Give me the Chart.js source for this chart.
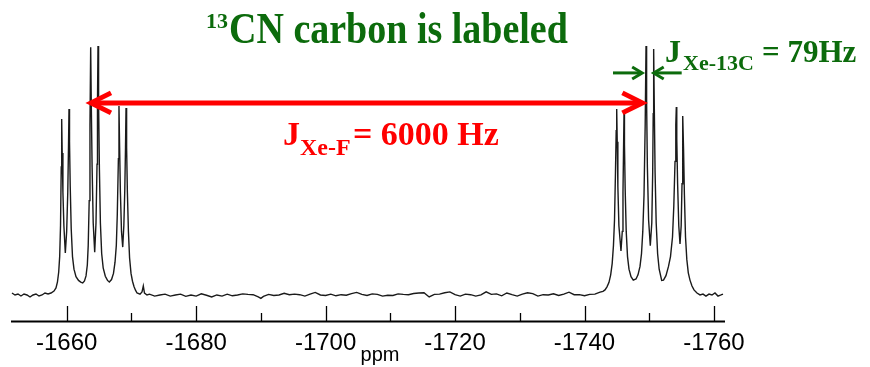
<!DOCTYPE html>
<html>
<head>
<meta charset="utf-8">
<script src="https://cdn.jsdelivr.net/npm/chart.js@4.4.0/dist/chart.umd.min.js"></script>
<style>
  html, body { margin: 0; padding: 0; background: #fff; }
</style>
</head>
<body>
<canvas id="spectrum" width="870" height="367"></canvas>
<script>
// spectrum: chemical shift (ppm) and intensity, in three stretches
// left multiplet (-1659 .. -1669 ppm)
const leftPpm = [
  -1651.55, -1652.02, -1652.48, -1652.94, -1653.41, -1653.87, -1654.34, -1654.80, -1655.26, -1655.73,
  -1656.19, -1656.65, -1657.12, -1657.58, -1658.04, -1658.35, -1658.58, -1658.77, -1658.92, -1659.05,
  -1659.16, -1659.23, -1659.31, -1659.42, -1659.57, -1659.79, -1660.00, -1660.17, -1660.28, -1660.36,
  -1660.44, -1660.55, -1660.70, -1660.90, -1661.13, -1661.44, -1661.83, -1662.17, -1662.48, -1662.75,
  -1662.99, -1663.19, -1663.33, -1663.48, -1663.60, -1663.71, -1663.80, -1663.93, -1664.10, -1664.33,
  -1664.53, -1664.69, -1664.76, -1664.84, -1664.93, -1665.06, -1665.21, -1665.41, -1665.64, -1665.97,
  -1666.31, -1666.59, -1666.93, -1667.23, -1667.47, -1667.67, -1667.82, -1667.99, -1668.08, -1668.18,
  -1668.30, -1668.47, -1668.66, -1668.83, -1668.98, -1669.09, -1669.17, -1669.26, -1669.38, -1669.54,
  -1669.72, -1669.94, -1670.17, -1670.40, -1670.63, -1670.87, -1671.33, -1671.64, -1671.84, -1672.02,
  -1672.41
];
const leftInt = [
  0, -0.71, -0.36, -1.07, -0.36, -0.71, -1.43, -0.71, -0.36, -1.07,
  -0.71, 0, -0.36, 0, 0.7, 1.8, 4.0, 7.5, 13, 24,
  45, 62.1, 50, 36, 24, 14.3, 22, 36, 52, 65.7,
  54, 38, 23, 13, 8.5, 5.8, 4.5, 3.9, 3.6, 4.3,
  6.1, 10, 17, 33, 60, 87.8, 68, 45, 25, 14.6,
  25, 46, 68, 88.2, 68, 44, 25, 14, 9, 6,
  4.5, 3.9, 4.8, 7, 11, 17, 28, 48, 66.8, 52,
  36, 22, 16.4, 24, 37, 52, 66.1, 52, 36, 22,
  12.5, 7, 4.2, 2.3, 1.0, 0, -0.4, 0.4, 2.5, 0,
  -0.7
];
// noisy baseline between the multiplets
const midPpm = [
  -1672.8, -1673.6, -1674.4, -1675.2, -1676.0, -1676.8, -1677.6, -1678.4, -1679.2, -1680.0,
  -1680.8, -1681.6, -1682.4, -1683.2, -1684.0, -1684.8, -1685.6, -1686.4, -1687.2, -1688.0,
  -1688.8, -1689.6, -1690.0, -1690.4, -1691.2, -1692.0, -1692.8, -1693.6, -1694.4, -1695.2,
  -1696.0, -1696.8, -1697.6, -1698.4, -1699.2, -1700.0, -1700.8, -1701.6, -1702.4, -1703.2,
  -1704.0, -1704.8, -1705.6, -1706.4, -1707.2, -1708.0, -1708.8, -1709.6, -1710.4, -1711.2,
  -1712.0, -1712.8, -1713.6, -1714.4, -1715.2, -1716.0, -1716.8, -1717.6, -1718.4, -1719.2,
  -1720.0, -1720.8, -1721.6, -1722.4, -1723.2, -1724.0, -1724.8, -1725.6, -1726.4, -1727.2,
  -1728.0, -1728.8, -1729.6, -1730.4, -1731.2, -1732.0, -1732.8, -1733.6, -1734.4, -1735.2,
  -1736.0, -1736.8, -1737.6, -1738.4, -1739.2, -1740.0, -1740.8, -1741.6, -1742.4
];
const midInt = [
  -0.4, -1.1, -0.7, -0.4, -1.1, -0.7, -0.4, -1.2, -0.7, -1.1,
  -0.3, -0.8, -1.4, -0.7, -1.1, -0.4, -1.0, -0.7, -0.3, -0.5,
  -0.6, -1.4, -1.9, -1.2, -0.5, -0.9, -0.7, -0.1, -0.6, -0.4,
  -0.6, -1.1, -0.4, 0.2, -0.7, -0.9, -0.4, -1.0, -0.6, -0.8,
  -0.2, 0.2, -0.5, -0.9, -0.3, -0.5, -1.1, -0.8, -0.9, -0.3,
  -0.5, -0.6, -0.2, 0.0, 0.1, -1.4, -0.5, -0.4, 0.1, 0.4,
  -0.6, -1.1, -0.4, -0.6, -1.1, -0.7, 0.4, -0.5, -0.3, -1.0,
  0.0, -0.6, -1.1, -0.4, 0.1, -0.2, -1.1, -0.6, -0.7, -0.3,
  -0.9, -0.4, 0.3, -0.6, -0.6, -1.0, -0.5, -0.4, 0.3
];
// right multiplet (-1745 .. -1755 ppm)
const rightPpm = [
  -1742.85, -1743.16, -1743.47, -1743.78, -1744.04, -1744.27, -1744.47, -1744.63, -1744.78, -1744.89,
  -1744.97, -1745.05, -1745.15, -1745.31, -1745.63, -1745.83, -1745.94, -1746.02, -1746.10, -1746.17,
  -1746.28, -1746.44, -1746.64, -1746.87, -1747.18, -1747.53, -1747.95, -1748.26, -1748.57, -1748.80,
  -1749.00, -1749.19, -1749.37, -1749.50, -1749.59, -1749.71, -1749.90, -1750.16, -1750.39, -1750.53,
  -1750.61, -1750.68, -1750.78, -1750.90, -1751.07, -1751.29, -1751.53, -1751.92, -1752.20, -1752.58,
  -1752.97, -1753.28, -1753.59, -1753.79, -1753.98, -1754.10, -1754.18, -1754.25, -1754.38, -1754.56,
  -1754.75, -1754.93, -1755.06, -1755.13, -1755.21, -1755.30, -1755.43, -1755.60, -1755.80, -1756.03,
  -1756.29, -1756.60, -1756.91, -1757.37, -1757.84, -1758.30, -1758.76, -1759.23, -1759.69, -1760.15,
  -1760.62, -1761.08, -1761.39
];
const rightInt = [
  0.6, 1.1, 2.2, 3.8, 6.5, 10.5, 17, 26, 43, 58,
  65.7, 54, 38, 24, 15.0, 22, 36, 50, 64.3, 53,
  37, 22, 13, 8.5, 5.8, 4.6, 5.0, 6.5, 9.5, 14,
  22, 35, 60, 88.2, 68, 45, 26, 16.9, 25, 43,
  64, 87.1, 66, 43, 25, 14, 8.5, 4.5, 4.6, 6.2,
  9.5, 13, 20, 31, 47, 60, 66.4, 55, 39, 24,
  17.5, 24, 39, 52, 63.2, 51, 35, 20, 12, 7.2,
  4.6, 2.5, 1.1, 0, -0.7, -0.4, -1.1, -0.4, -0.7, 0,
  -1.1, -0.7, -0.4
];
const majorTicks = [-1660, -1680, -1700, -1720, -1740, -1760];
const minorTicks = [-1670, -1690, -1710, -1730, -1750];
const tickLabels = ['-1660', '-1680', '-1700', '-1720', '-1740', '-1760'];

// annotation anchors (ppm / intensity)
const couplingArrow = { from: -1663.45, to: -1749.25, level: 67.9 };
const carbonArrows = { leftTail: -1744.4, leftTip: -1749.06, rightTip: -1750.53, rightTail: -1755.01, level: 78.6 };

const GREEN = '#0c6b0c';
const RED = '#ff0000';

function chevron(ctx, tipX, tipY, dir, back, half) {
  ctx.beginPath();
  ctx.moveTo(tipX + dir * back, tipY - half);
  ctx.lineTo(tipX, tipY);
  ctx.lineTo(tipX + dir * back, tipY + half);
  ctx.stroke();
}

function text(ctx, str, x, y, font, color, sy) {
  ctx.save();
  ctx.font = font;
  ctx.fillStyle = color;
  ctx.textBaseline = 'alphabetic';
  ctx.textAlign = 'left';
  ctx.translate(x, y);
  ctx.scale(1, sy || 1);
  ctx.fillText(str, 0, 0);
  ctx.restore();
}

const decorations = {
  id: 'decorations',
  afterDraw(chart) {
    const ctx = chart.ctx;
    const xs = chart.scales.x, ys = chart.scales.y;
    const area = chart.chartArea;
    ctx.save();

    // axis line and ticks (pointing up)
    ctx.strokeStyle = '#000';
    ctx.lineWidth = 2;
    ctx.beginPath();
    ctx.moveTo(area.left, area.bottom + 0.5);
    ctx.lineTo(area.right, area.bottom + 0.5);
    ctx.stroke();
    ctx.lineWidth = 1.3;
    majorTicks.forEach(v => {
      const px = Math.round(xs.getPixelForValue(v)) + 0.5;
      ctx.beginPath(); ctx.moveTo(px, area.bottom); ctx.lineTo(px, area.bottom - 15); ctx.stroke();
    });
    minorTicks.forEach(v => {
      const px = Math.round(xs.getPixelForValue(v)) + 0.5;
      ctx.beginPath(); ctx.moveTo(px, area.bottom); ctx.lineTo(px, area.bottom - 8); ctx.stroke();
    });
    ctx.fillStyle = '#000';
    ctx.font = '24px "Liberation Sans", Arial, sans-serif';
    ctx.textAlign = 'center';
    ctx.textBaseline = 'alphabetic';
    majorTicks.forEach((v, i) => {
      ctx.fillText(tickLabels[i], xs.getPixelForValue(v), area.bottom + 29);
    });
    ctx.font = '20px "Liberation Sans", Arial, sans-serif';
    ctx.fillText('ppm', 380, 361);

    // red J(Xe-F) arrow
    const ry = ys.getPixelForValue(couplingArrow.level);
    const rx1 = xs.getPixelForValue(couplingArrow.from);
    const rx2 = xs.getPixelForValue(couplingArrow.to);
    ctx.strokeStyle = RED;
    ctx.lineWidth = 5;
    ctx.lineJoin = 'miter';
    ctx.beginPath(); ctx.moveTo(rx1 + 3, ry); ctx.lineTo(rx2 - 3, ry); ctx.stroke();
    chevron(ctx, rx1 + 2, ry, 1, 20, 10);
    chevron(ctx, rx2 - 2, ry, -1, 20, 10);

    // green J(Xe-13C) arrows
    const gy = ys.getPixelForValue(carbonArrows.level);
    ctx.strokeStyle = GREEN;
    ctx.lineWidth = 3;
    const l1 = xs.getPixelForValue(carbonArrows.leftTail), l2 = xs.getPixelForValue(carbonArrows.leftTip);
    const r1 = xs.getPixelForValue(carbonArrows.rightTip), r2 = xs.getPixelForValue(carbonArrows.rightTail);
    ctx.beginPath(); ctx.moveTo(l1, gy); ctx.lineTo(l2 - 2, gy); ctx.stroke();
    chevron(ctx, l2 - 1, gy, -1, 10, 6);
    ctx.beginPath(); ctx.moveTo(r1 + 2, gy); ctx.lineTo(r2, gy); ctx.stroke();
    chevron(ctx, r1 + 1, gy, 1, 10, 6);
    ctx.restore();

    // texts
    const serif = '"Liberation Serif", "Times New Roman", serif';
    text(ctx, '13', 206, 28, 'bold 22px ' + serif, GREEN);
    text(ctx, 'CN carbon is labeled', 229, 43, 'bold 38px ' + serif, GREEN, 1.17);

    text(ctx, 'J', 283, 145, 'bold 34px ' + serif, RED);
    text(ctx, 'Xe-F', 300, 155, 'bold 24px ' + serif, RED);
    text(ctx, '= 6000 Hz', 353, 145, 'bold 34px ' + serif, RED);

    text(ctx, 'J', 665, 62, 'bold 32px ' + serif, GREEN);
    text(ctx, 'Xe-13C', 683, 70, 'bold 22px ' + serif, GREEN);
    text(ctx, '= 79Hz', 762, 62, 'bold 31px ' + serif, GREEN);
  }
};

const ppm = leftPpm.concat(midPpm, rightPpm);
const intensity = leftInt.concat(midInt, rightInt);
const points = ppm.map((p, i) => ({ x: p, y: intensity[i] }));

new Chart(document.getElementById('spectrum'), {
  type: 'line',
  data: {
    datasets: [{
      data: points,
      borderColor: '#1a1a1a',
      borderWidth: 1.4,
      pointRadius: 0,
      tension: 0,
      fill: false,
      clip: false
    }]
  },
  options: {
    responsive: false,
    animation: false,
    devicePixelRatio: 1,
    parsing: false,
    layout: { padding: { left: 11, right: 145, top: 41, bottom: 46 } },
    scales: {
      x: { type: 'linear', reverse: true, min: -1761.7, max: -1651.4, display: false },
      y: { min: -10, max: 90, display: false }
    },
    plugins: { legend: { display: false }, tooltip: { enabled: false } }
  },
  plugins: [decorations]
});
</script>
</body>
</html>
